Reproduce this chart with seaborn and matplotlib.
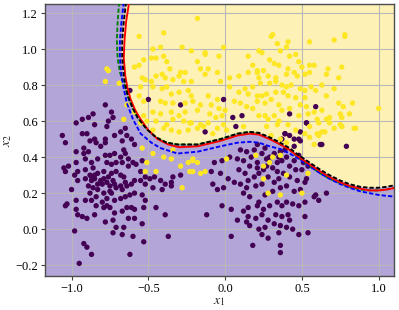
import numpy as np
import pandas as pd
import matplotlib
matplotlib.use("Agg")
import matplotlib.pyplot as plt
import seaborn as sns

# ---------------- data ----------------
purple_x = [-0.78,-0.86,-0.89,-0.93,-0.97,-0.74,-0.73,-0.76,-0.77,-0.85,-0.90,-0.93,-1.06,-1.04,-0.97,-0.92,-0.92,-0.89,-0.88,-0.85,
            -0.84,-0.81,-0.78,-0.78,-0.72,-0.68,-0.65,-0.64,-0.67,-0.66,-0.65,-0.61,-0.59,-0.63,-0.68,-0.72,-0.75,-0.78,-0.83,-0.87,
            -0.91,-0.97,-1.05,-1.04,-1.02,-0.98,-0.96,-0.91,-0.88,-0.85,-0.86,-0.83,-0.79,-0.77,-0.74,-0.71,-0.67,-0.63,-0.60,-0.58,
            -0.54,-0.55,-0.52,-0.49,-0.46,-0.42,-0.39,-0.35,-0.34,-0.29,-0.35,-0.41,-0.47,-0.52,-0.55,-0.59,-0.61,-0.65,-0.64,-0.67,
            -0.71,-0.73,-0.75,-0.77,-0.80,-0.83,-0.87,-0.91,-0.96,-1.00,-0.88,-0.84,-0.80,-0.77,-0.74,-0.72,-0.68,-0.65,-0.62,-0.59,
            -0.54,-0.52,-0.45,-0.53,-0.59,-0.61,-0.64,-0.67,-0.72,-0.75,-0.77,-0.79,-0.84,-0.87,-0.91,-0.97,-1.03,-1.04,-0.97,-0.96,
            -0.93,-0.90,-0.85,-0.78,-0.73,-0.71,-0.66,-0.63,-0.59,-0.54,-0.39,-0.73,-0.67,-0.60,-0.53,-0.37,-0.98,-0.92,-0.90,-0.87,
            -0.95,-0.62,-0.87,-0.85,-0.81,-0.79,-0.76,-0.74,-0.71,-0.68,-0.66,-0.72,-0.68,-0.75,-0.79,-0.83,-0.86,-0.89,
            0.07,0.39,0.42,0.48,0.49,0.53,0.62,0.45,0.10,0.21,0.24,0.17,0.12,0.08,0.03,-0.02,-0.07,-0.09,-0.03,-0.08,
            -0.05,-0.01,0.02,0.06,0.09,0.13,0.15,0.19,0.22,0.25,0.31,0.34,0.37,0.40,0.45,0.48,0.51,0.50,0.54,0.52,
            0.47,0.42,0.38,0.35,0.32,0.28,0.24,0.20,0.14,0.12,0.10,0.16,0.22,0.26,0.31,0.36,0.40,0.45,0.49,0.53,
            0.58,0.61,0.59,0.66,0.52,0.48,0.44,0.40,0.37,0.34,0.29,0.25,0.21,0.15,0.12,0.04,-0.02,-0.12,0.08,0.15,
            0.20,0.24,0.28,0.33,0.37,0.41,0.42,0.40,0.36,0.32,0.26,0.22,0.16,0.14,0.24,0.28,0.35,0.44,0.48,0.54,
            0.52,0.04,0.18,0.36,0.36,0.29,0.27,0.21,0.32,0.36,0.39,0.14,0.19,0.26,0.29,0.35,0.16,0.21,0.27,0.34,
            0.42,0.46,
            -0.50,-0.29,-0.01,0.11,-0.13,-0.62,0.59,0.42,0.53,0.39,0.37,0.49,0.45,0.63,0.79,0.05]
purple_y = [0.69,0.64,0.62,0.61,0.59,0.65,0.62,0.60,0.57,0.58,0.53,0.53,0.52,0.48,0.43,0.45,0.42,0.43,0.49,0.50,
            0.48,0.46,0.50,0.48,0.52,0.54,0.56,0.52,0.49,0.44,0.42,0.50,0.47,0.39,0.40,0.42,0.41,0.41,0.39,0.37,
            0.39,0.37,0.34,0.32,0.35,0.30,0.32,0.33,0.30,0.28,0.34,0.31,0.32,0.37,0.36,0.37,0.37,0.35,0.37,0.36,
            0.38,0.32,0.29,0.28,0.29,0.27,0.25,0.26,0.29,0.30,0.24,0.22,0.23,0.25,0.27,0.27,0.25,0.26,0.24,0.22,
            0.23,0.27,0.24,0.26,0.25,0.25,0.27,0.28,0.27,0.22,0.20,0.18,0.15,0.17,0.20,0.16,0.17,0.18,0.19,0.20,
            0.19,0.16,0.12,0.12,0.11,0.12,0.12,0.10,0.09,0.12,0.13,0.12,0.13,0.16,0.16,0.16,0.14,0.13,0.11,0.08,
            0.07,0.06,0.08,0.04,0.05,0.01,0.01,0.06,0.06,0.03,0.08,-0.02,-0.03,-0.04,-0.07,-0.04,-0.01,-0.08,-0.10,-0.14,
            -0.19,-0.14,0.29,0.30,0.27,0.28,0.29,0.31,0.32,0.30,0.29,0.25,0.24,0.21,0.20,0.22,0.23,0.24,
            0.57,0.53,0.52,0.50,0.54,0.59,0.47,0.46,0.44,0.47,0.42,0.40,0.38,0.39,0.40,0.38,0.37,0.32,0.31,0.25,
            0.22,0.23,0.28,0.26,0.33,0.31,0.27,0.29,0.31,0.33,0.34,0.37,0.38,0.40,0.38,0.41,0.37,0.33,0.35,0.26,
            0.27,0.29,0.31,0.28,0.26,0.29,0.25,0.24,0.23,0.20,0.25,0.18,0.15,0.19,0.21,0.23,0.24,0.21,0.22,0.28,
            0.18,0.16,0.19,0.20,0.15,0.13,0.14,0.15,0.13,0.15,0.13,0.11,0.13,0.12,0.10,0.11,0.13,0.08,0.05,0.07,
            0.06,0.08,0.05,0.08,0.07,0.08,0.05,0.01,0.02,0.03,0.01,0.00,0.02,0.04,-0.03,-0.05,-0.02,0.00,-0.03,-0.02,
            0.07,-0.04,-0.09,-0.09,-0.13,0.37,0.39,0.37,0.42,0.43,0.44,0.43,0.44,0.45,0.40,0.40,0.35,0.34,0.35,0.32,
            0.35,0.33,
            0.72,0.69,0.72,0.63,0.54,0.77,0.68,0.64,0.59,0.53,0.50,0.49,0.50,0.47,0.46,0.62]

yellow_x = [-0.18,-0.40,-0.56,-0.28,-0.47,-0.42,-0.22,-0.13,-0.04,0.15,-0.53,-0.48,-0.45,-0.40,-0.38,-0.36,-0.59,-0.56,-0.18,-0.16,
            -0.11,-0.13,-0.29,-0.26,-0.30,-0.45,-0.41,-0.54,-0.52,-0.48,-0.39,-0.34,-0.27,-0.22,-0.05,-0.03,0.03,0.09,0.15,0.18,
            0.21,0.03,0.09,0.13,0.15,0.18,0.21,-0.41,-0.38,-0.47,-0.55,-0.35,-0.30,-0.24,-0.22,-0.11,-0.05,0.06,0.10,0.14,
            0.18,-0.42,-0.39,-0.34,-0.26,-0.21,-0.16,-0.09,-0.04,0.00,-0.56,-0.53,-0.59,-0.53,-0.47,-0.42,-0.35,-0.30,-0.26,-0.18,
            -0.10,-0.06,-0.02,-0.55,-0.51,-0.45,-0.38,-0.34,-0.27,-0.23,-0.16,-0.11,-0.47,-0.40,-0.35,-0.30,-0.24,-0.18,-0.05,0.01,
            0.30,0.34,0.41,0.40,0.55,0.71,0.78,0.22,0.24,0.36,0.42,0.46,0.48,0.55,0.58,0.50,0.29,0.32,0.35,0.21,
            0.25,0.41,0.45,0.47,0.52,0.55,0.40,0.28,0.33,0.22,0.23,0.29,0.33,0.37,0.40,0.43,0.49,0.52,0.56,0.59,
            0.63,0.67,0.66,0.74,0.76,0.71,0.66,0.74,0.77,0.83,0.81,1.00,0.76,0.75,0.85,0.71,0.65,0.60,0.66,0.60,
            0.54,0.49,0.52,0.46,0.41,0.38,0.33,0.27,0.24,0.21,0.26,0.30,0.35,0.37,0.32,0.26,0.22,0.28,0.35,0.41,
            0.46,0.52,0.55,0.61,0.68,0.75,0.48,0.42,0.53,0.58,0.63,
            -0.77,-0.76,-0.78,-0.69,-0.66,-0.64,-0.54,-0.47,-0.51,-0.52,-0.45,-0.40,-0.35,-0.29,-0.28,-0.23,-0.24,-0.21,-0.34,
            -0.21,-0.18,-0.21,-0.16,-0.13,0.20,0.25,0.29,0.25,0.40,0.54,0.28,0.36,0.50,0.36,0.01,0.31,
            -0.22,-0.14,-0.08,-0.01,0.12,0.27,0.34,0.30,0.36,0.40,0.58,0.61,0.63,0.68,0.76,0.84,0.76,0.55,
            0.31,0.78,-0.01,-0.13]
yellow_y = [1.17,1.09,1.07,1.01,1.00,1.01,0.99,0.97,0.96,0.96,0.94,0.95,0.95,0.96,0.93,0.89,0.90,0.91,0.93,0.89,
            0.89,0.86,0.87,0.87,0.85,0.85,0.86,0.84,0.83,0.82,0.84,0.83,0.82,0.82,0.87,0.82,0.84,0.85,0.87,0.91,
            0.87,0.79,0.76,0.78,0.75,0.79,0.74,0.78,0.79,0.79,0.79,0.75,0.76,0.77,0.74,0.74,0.72,0.71,0.70,0.68,
            0.67,0.71,0.70,0.70,0.70,0.71,0.69,0.69,0.67,0.66,0.74,0.71,0.65,0.63,0.65,0.64,0.65,0.63,0.65,0.66,
            0.64,0.62,0.63,0.59,0.60,0.60,0.58,0.61,0.60,0.59,0.58,0.59,0.55,0.56,0.55,0.54,0.55,0.56,0.56,0.55,
            1.07,1.03,1.04,1.01,1.04,1.05,1.07,0.99,0.98,0.99,0.96,0.97,0.93,0.91,0.91,0.90,0.94,0.92,0.91,0.88,
            0.88,0.89,0.87,0.85,0.86,0.87,0.86,0.85,0.84,0.84,0.81,0.81,0.82,0.80,0.79,0.80,0.78,0.77,0.79,0.77,
            0.80,0.89,0.86,0.84,0.90,0.78,0.74,0.70,0.68,0.70,0.64,0.67,0.62,0.58,0.56,0.56,0.54,0.53,0.61,0.61,
            0.64,0.69,0.73,0.73,0.74,0.76,0.76,0.75,0.74,0.71,0.70,0.72,0.69,0.66,0.63,0.63,0.63,0.61,0.60,0.58,
            0.55,0.53,0.51,0.59,0.62,0.64,0.63,0.67,0.68,0.65,0.66,
            0.89,0.88,0.82,0.81,0.61,0.69,0.45,0.42,0.37,0.32,0.32,0.40,0.39,0.35,0.23,0.32,0.37,0.39,0.44,
            0.38,0.37,0.32,0.31,0.32,0.41,0.35,0.37,0.28,0.30,0.31,0.20,0.19,0.20,0.41,0.39,0.40,
            0.59,0.57,0.53,0.58,0.57,0.57,0.58,0.52,0.50,0.48,0.47,0.52,0.54,0.59,0.57,0.56,0.57,0.57,
            1.08,1.08,1.01,0.98]

# decision boundaries of the four models
black_x = [-0.645,-0.66,-0.67,-0.67,-0.66,-0.645,-0.63,-0.60,-0.57,-0.51,-0.45,-0.38,-0.31,-0.18,-0.03,0.08,0.16,0.22,0.29,0.36,
           0.42,0.48,0.55,0.62,0.68,0.75,0.81,0.88,0.94,1.00,1.05,1.11]
black_y = [1.26,1.15,1.05,0.95,0.85,0.78,0.73,0.67,0.62,0.555,0.51,0.48,0.47,0.47,0.50,0.53,0.54,0.535,0.51,0.48,
           0.45,0.41,0.37,0.33,0.30,0.27,0.25,0.235,0.23,0.23,0.235,0.245]
red_x = [-0.625,-0.645,-0.655,-0.66,-0.65,-0.635,-0.615,-0.585,-0.55,-0.50,-0.44,-0.37,-0.30,-0.18,-0.03,0.08,0.16,0.22,0.29,0.36,
         0.42,0.48,0.55,0.62,0.68,0.75,0.81,0.88,0.94,1.00,1.05,1.11]
red_y = [1.26,1.15,1.05,0.95,0.85,0.78,0.72,0.66,0.61,0.55,0.50,0.47,0.455,0.46,0.49,0.52,0.53,0.525,0.50,0.47,
         0.44,0.40,0.36,0.32,0.29,0.26,0.24,0.225,0.215,0.215,0.22,0.23]
green_x = [-0.69,-0.70,-0.705,-0.70,-0.685,-0.655,-0.63,-0.60,-0.57,-0.51,-0.45,-0.38,-0.31,-0.18,-0.03,0.08,0.16,0.22,0.29,0.36,
           0.42,0.48,0.55,0.62,0.68,0.75,0.81,0.88,0.94,1.00,1.05,1.11]
green_y = [1.26,1.15,1.05,0.95,0.87,0.80,0.73,0.67,0.62,0.555,0.51,0.48,0.47,0.47,0.50,0.53,0.54,0.53,0.505,0.47,
           0.44,0.395,0.35,0.31,0.28,0.255,0.235,0.22,0.215,0.215,0.22,0.23]
blue_x = [-0.66,-0.675,-0.685,-0.685,-0.675,-0.66,-0.64,-0.60,-0.55,-0.48,-0.42,-0.31,-0.18,-0.03,0.08,0.16,0.22,0.29,0.36,
          0.42,0.48,0.55,0.62,0.68,0.75,0.81,0.88,0.94,1.00,1.05,1.11]
blue_y = [1.26,1.15,1.05,0.95,0.85,0.78,0.70,0.61,0.53,0.48,0.45,0.42,0.43,0.46,0.48,0.485,0.48,0.46,0.445,
          0.42,0.39,0.35,0.31,0.28,0.25,0.23,0.21,0.20,0.19,0.185,0.18]

x_ticks = [-1.0, -0.5, 0.0, 0.5, 1.0]
y_ticks = [-0.2, 0.0, 0.2, 0.4, 0.6, 0.8, 1.0, 1.2]
x_lim = (-1.173, 1.10)
y_lim = (-0.26, 1.25)

# ---------------- styling ----------------
sns.set_style("whitegrid", {"axes.edgecolor": "0.25", "grid.color": "0.72",
                            "xtick.bottom": True, "ytick.left": True})
plt.rcParams["font.family"] = ["Liberation Serif", "DejaVu Serif"]
plt.rcParams["mathtext.fontset"] = "stix"
plt.rcParams["xtick.major.size"] = 3
plt.rcParams["ytick.major.size"] = 3

fig = plt.figure(figsize=(3.99, 3.10), dpi=100)
ax = fig.add_axes([45/399, 1 - 276/310, 349/399, 272/310])

# background decision regions
ax.set_facecolor("#b3a5d8")
ax.fill(list(black_x) + [x_lim[1] + 0.1, x_lim[1] + 0.1], list(black_y) + [y_lim[1] + 0.1, y_lim[1] + 0.1],
        color="#fef1b6", zorder=0.2, lw=0)
ax.set_axisbelow(True)

df = pd.DataFrame({
    "x1": purple_x + yellow_x,
    "x2": purple_y + yellow_y,
    "cls": [0] * len(purple_x) + [1] * len(yellow_x),
})
sns.scatterplot(data=df, x="x1", y="x2", hue="cls", palette={0: "#440154", 1: "#fde725"},
                s=15, linewidth=0, legend=False, ax=ax, zorder=2)

for xs, ys, col, dashed in [(green_x, green_y, "green", True),
                            (blue_x, blue_y, "blue", True),
                            (red_x, red_y, "red", False),
                            (black_x, black_y, "black", True)]:
    line_ax = sns.lineplot(x=xs, y=ys, sort=False, estimator=None, color=col,
                           linewidth=1.35, ax=ax, zorder=3)
    ln = line_ax.get_lines()[-1]
    if dashed:
        ln.set_dashes((2.3, 1.1))

ax.set_xlim(*x_lim)
ax.set_ylim(*y_lim)
ax.set_xticks(x_ticks)
ax.set_yticks(y_ticks)
ax.set_xticklabels([f"{v:.1f}".replace("-", "\u2212") for v in x_ticks])
ax.set_yticklabels([f"{v:.1f}".replace("-", "\u2212") for v in y_ticks])
ax.tick_params(labelsize=9, colors="0.25", labelcolor="black", pad=2)
ax.set_xlabel(r"$x_1$", fontsize=10, labelpad=0)
ax.set_ylabel(r"$x_2$", fontsize=10, labelpad=1)
for s in ax.spines.values():
    s.set_visible(True)
    s.set_color("0.3")
    s.set_linewidth(1.0)

fig.savefig("out.png", dpi=100)
